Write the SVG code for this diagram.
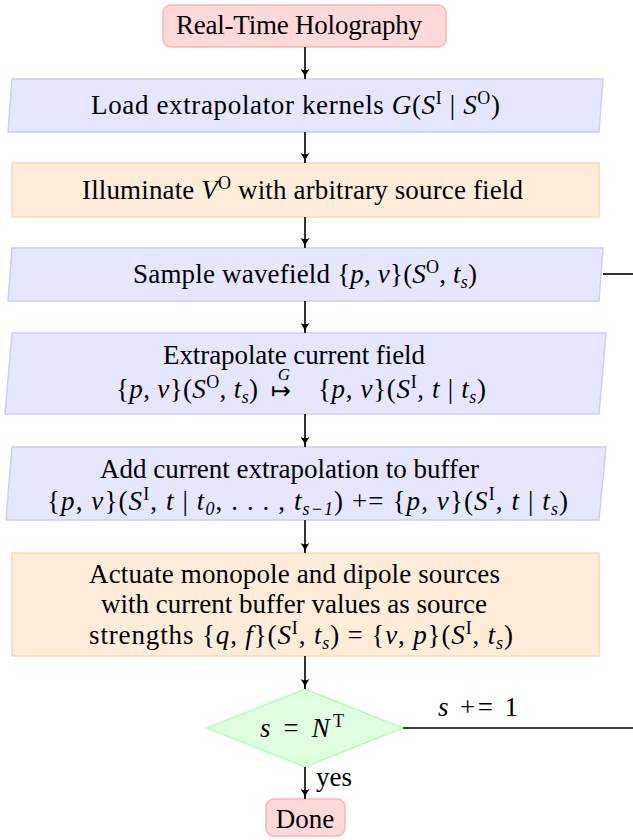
<svg xmlns="http://www.w3.org/2000/svg" width="633" height="840" viewBox="0 0 633 840">
<defs>
<marker id="ah" markerUnits="userSpaceOnUse" markerWidth="12" markerHeight="12" refX="10" refY="5" orient="auto">
<path d="M0,0.5 Q4,4 10,5 Q4,6 0,9.5 Q2.5,5 0,0.5 z" fill="#000"/>
</marker>
</defs>
<style>
text{font-family:'Liberation Serif','Times New Roman',serif;font-size:27px;fill:#000}
.c{text-anchor:middle}
.e{text-anchor:end}
.i{font-style:italic}
.sup{font-size:18px}
.sub{font-size:18px;font-style:italic}
.sym{font-family:'DejaVu Sans',sans-serif;font-size:24px}
.small{font-size:17px}
.term{fill:#ffd9d9;stroke:#ffb3b3;stroke-width:1.5}
.io{fill:#e6e6ff;stroke:#ccccff;stroke-width:1.5}
.proc{fill:#ffecd9;stroke:#ffd9b3;stroke-width:1.5}
.dec{fill:#e0ffe0;stroke:#b3ffb3;stroke-width:1.5}
.ln{stroke:#000;stroke-width:1.6;fill:none}
.ar{marker-end:url(#ah)}
</style>
<g id="start">
<rect class="term" x="163" y="5" width="283" height="42" rx="8"/>
<text class="c" x="299" y="34" textLength="246" lengthAdjust="spacing">Real-Time Holography</text>
</g>
<g id="load">
<polygon class="io" points="12,79 603,79 599,132 8,132"/>
<text class="c" x="295.5" y="114" textLength="409" lengthAdjust="spacing">Load extrapolator kernels <tspan class="i">G</tspan>(<tspan class="i">S</tspan><tspan class="sup" dy="-10">I</tspan><tspan dy="10"> | </tspan><tspan class="i">S</tspan><tspan class="sup" dy="-10">O</tspan><tspan dy="10">)</tspan></text>
</g>
<g id="illuminate">
<rect class="proc" x="12" y="163" width="587" height="54"/>
<text class="c" x="302.5" y="199" textLength="441" lengthAdjust="spacing">Illuminate <tspan class="i">V</tspan><tspan class="sup" dy="-10">O</tspan><tspan dy="10"> with arbitrary source field</tspan></text>
</g>
<g id="sample">
<polygon class="io" points="12,248 603,248 599,301 8,301"/>
<text class="c" x="305" y="283" textLength="344" lengthAdjust="spacing">Sample wavefield {<tspan class="i">p</tspan>, <tspan class="i">v</tspan>}(<tspan class="i">S</tspan><tspan class="sup" dy="-10">O</tspan><tspan dy="10">, </tspan><tspan class="i">t</tspan><tspan class="sub" dy="5">s</tspan><tspan dy="-5">)</tspan></text>
</g>
<g id="extrapolate">
<polygon class="io" points="12,333 606,333 599,414 5,414"/>
<text class="c" x="294" y="364" textLength="262" lengthAdjust="spacing">Extrapolate current field</text>
<text class="e" x="258" y="398" textLength="142" lengthAdjust="spacing">{<tspan class="i">p</tspan>, <tspan class="i">v</tspan>}(<tspan class="i">S</tspan><tspan class="sup" dy="-10">O</tspan><tspan dy="10">, </tspan><tspan class="i">t</tspan><tspan class="sub" dy="5">s</tspan><tspan dy="-5">)</tspan></text>
<text class="c sym" x="281" y="399">↦</text>
<text class="c i small" x="284" y="380">G</text>
<text x="318" y="398" textLength="168" lengthAdjust="spacing">{<tspan class="i">p</tspan>, <tspan class="i">v</tspan>}(<tspan class="i">S</tspan><tspan class="sup" dy="-10">I</tspan><tspan dy="10">, </tspan><tspan class="i">t</tspan> | <tspan class="i">t</tspan><tspan class="sub" dy="5">s</tspan><tspan dy="-5">)</tspan></text>
</g>
<g id="add">
<polygon class="io" points="12,447 606,447 599,520 6,520"/>
<text class="c" x="289.5" y="478" textLength="379" lengthAdjust="spacing">Add current extrapolation to buffer</text>
<text class="c" x="307.5" y="510" textLength="521" lengthAdjust="spacing">{<tspan class="i">p</tspan>, <tspan class="i">v</tspan>}(<tspan class="i">S</tspan><tspan class="sup" dy="-10">I</tspan><tspan dy="10">, </tspan><tspan class="i">t</tspan> | <tspan class="i">t</tspan><tspan class="sub" dy="5">0</tspan><tspan dy="-5">, . . . , </tspan><tspan class="i">t</tspan><tspan class="sub" dy="5">s−1</tspan><tspan dy="-5">) += {</tspan><tspan class="i">p</tspan>, <tspan class="i">v</tspan>}(<tspan class="i">S</tspan><tspan class="sup" dy="-10">I</tspan><tspan dy="10">, </tspan><tspan class="i">t</tspan> | <tspan class="i">t</tspan><tspan class="sub" dy="5">s</tspan><tspan dy="-5">)</tspan></text>
</g>
<g id="actuate">
<rect class="proc" x="12" y="553" width="587" height="103"/>
<text class="c" x="294.5" y="583" textLength="411" lengthAdjust="spacing">Actuate monopole and dipole sources</text>
<text class="c" x="294" y="613" textLength="386" lengthAdjust="spacing">with current buffer values as source</text>
<text class="c" x="301" y="644" textLength="424" lengthAdjust="spacing">strengths {<tspan class="i">q</tspan>, <tspan class="i">f</tspan>}(<tspan class="i">S</tspan><tspan class="sup" dy="-10">I</tspan><tspan dy="10">, </tspan><tspan class="i">t</tspan><tspan class="sub" dy="5">s</tspan><tspan dy="-5">) = {</tspan><tspan class="i">v</tspan>, <tspan class="i">p</tspan>}(<tspan class="i">S</tspan><tspan class="sup" dy="-10">I</tspan><tspan dy="10">, </tspan><tspan class="i">t</tspan><tspan class="sub" dy="5">s</tspan><tspan dy="-5">)</tspan></text>
</g>
<g id="decision">
<polygon class="dec" points="305,689 403,728 305,767 207,728"/>
<text class="c" x="302" y="737" textLength="84" lengthAdjust="spacing"><tspan class="i">s</tspan> = <tspan class="i">N</tspan><tspan class="sup" dy="-10">T</tspan></text>
</g>
<g id="done">
<rect class="term" x="266" y="799" width="79" height="37" rx="8"/>
<text class="c" x="305" y="828">Done</text>
</g>
<g id="connectors">
<line class="ln ar" x1="305" y1="47" x2="305" y2="79"/>
<line class="ln ar" x1="305" y1="132" x2="305" y2="163"/>
<line class="ln ar" x1="305" y1="217" x2="305" y2="248"/>
<line class="ln ar" x1="305" y1="301" x2="305" y2="333"/>
<line class="ln ar" x1="305" y1="414" x2="305" y2="447"/>
<line class="ln ar" x1="305" y1="520" x2="305" y2="553"/>
<line class="ln ar" x1="305" y1="656" x2="305" y2="689"/>
<line class="ln ar" x1="305" y1="767" x2="305" y2="799"/>
<line class="ln" x1="603" y1="274" x2="633" y2="274"/>
<line class="ln" x1="403" y1="728" x2="633" y2="728"/>
<text x="316" y="786">yes</text>
<text x="438" y="716" textLength="80" lengthAdjust="spacing"><tspan class="i">s</tspan> += 1</text>
</g>
</svg>
